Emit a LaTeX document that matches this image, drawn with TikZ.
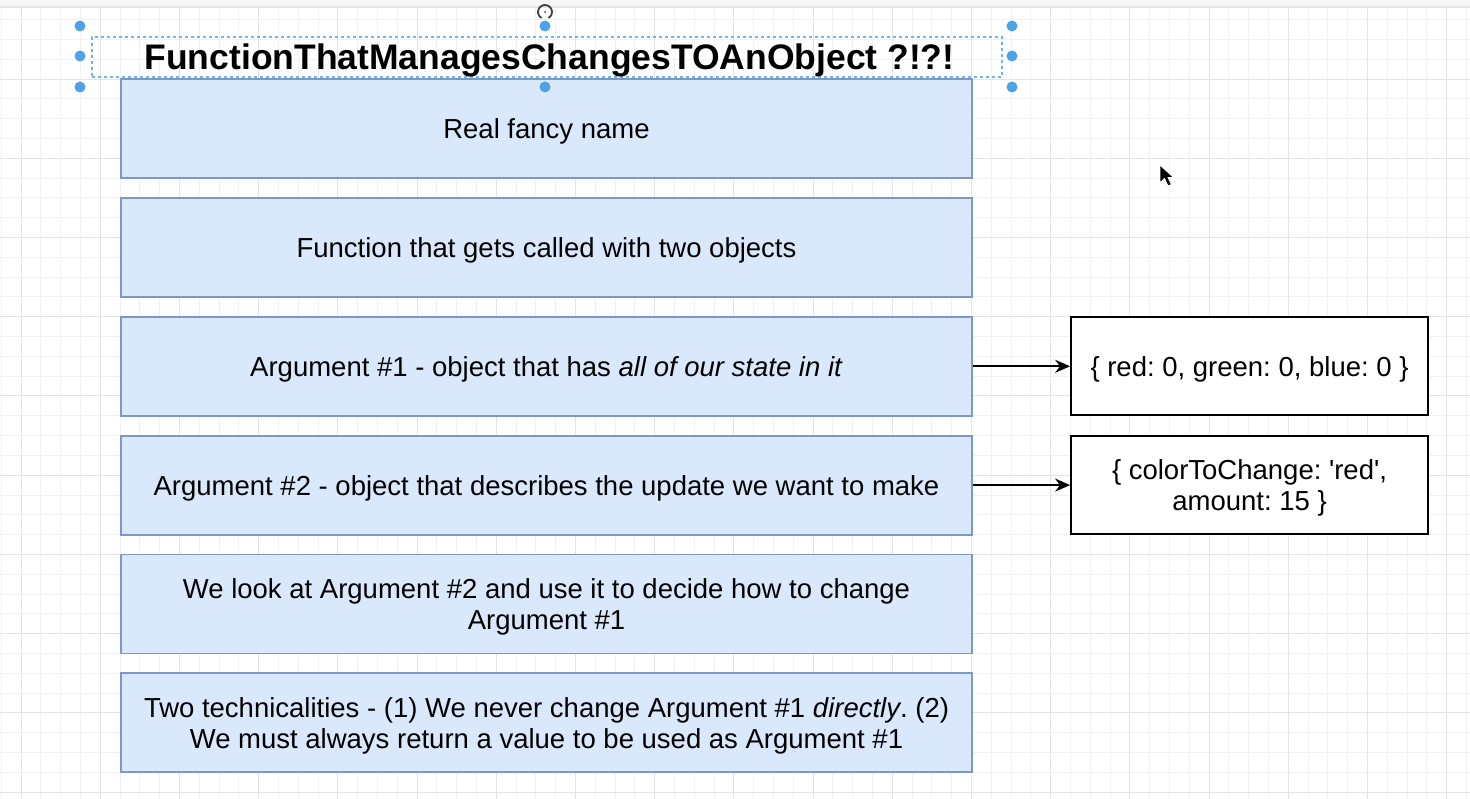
\documentclass[tikz,border=0pt]{standalone}
\usepackage{fontspec}
\setmainfont{Liberation Sans}
\usetikzlibrary{arrows.meta}
\definecolor{boxfill}{HTML}{DAE8FC}
\definecolor{boxdraw}{HTML}{7D98C4}
\definecolor{selblue}{HTML}{4DA3E6}
\definecolor{gridminor}{HTML}{F1F1F1}
\definecolor{gridmajor}{HTML}{E4E4E4}
\definecolor{pagetop}{HTML}{F6F6F6}
\tikzset{
  mainbox/.style={draw=boxdraw, fill=boxfill, line width=1.8pt, minimum width=851pt, minimum height=99pt, inner sep=0pt, align=center, font=\fontsize{27.5}{31}\selectfont, text depth=-8pt},
  objbox/.style={draw=black, fill=white, line width=1.8pt, minimum width=357pt, minimum height=98pt, inner sep=0pt, align=center, font=\fontsize{27.5}{31}\selectfont, text depth=-8pt},
  selbox/.style={draw=selblue!80, dash pattern=on 3pt off 3pt, line width=1.2pt, minimum width=910pt, minimum height=40pt, inner sep=0pt},
  titletext/.style={inner sep=0pt, font=\bfseries\fontsize{35.5}{40}\selectfont},
  arr/.style={line width=1.9pt, -{Stealth[length=15pt,width=13pt]}},
  handle/.style={fill=selblue}
}
\begin{document}
\frenchspacing
\begin{tikzpicture}[x=1pt,y=-1pt]
\useasboundingbox (0,0) rectangle (1470,799);
\fill[white] (0,0) rectangle (1470,799);
% grid
\foreach \i in {-1,...,73} \draw[gridminor, line width=1pt] ({21.1+19.8*\i},0) -- ({21.1+19.8*\i},799);
\foreach \j in {0,...,41} \draw[gridminor, line width=1pt] (0,{19.8*\j}) -- (1470,{19.8*\j});
\foreach \i in {0,4,...,72} \draw[gridmajor, line width=1pt] ({21.1+19.8*\i},0) -- ({21.1+19.8*\i},799);
\foreach \j in {0,4,...,40} \draw[gridmajor, line width=1pt] (0,{19.8*\j}) -- (1470,{19.8*\j});
\fill[pagetop] (0,0) rectangle (1470,7);
\draw[gridmajor, line width=1.2pt] (0,7) -- (1470,7);

% title
\node[selbox] (sel) at (547,57) {};
\node[titletext] (title) at (549.5,60) {FunctionThatManagesChangesTOAnObject ?!?!};

% main boxes
\node[mainbox] (b1) at (546.5,128.7) {Real fancy name};
\node[mainbox] (b2) at (546.5,247.5) {Function that gets called with two objects};
\node[mainbox] (b3) at (546.5,366.3) {Argument \#1 - object that has \textit{all of our state in it}};
\node[mainbox] (b4) at (546.5,485.1) {Argument \#2 - object that describes the update we want to make};
\node[mainbox] (b5) at (546.5,603.9) {We look at Argument \#2 and use it to decide how to change\\Argument \#1};
\node[mainbox] (b6) at (546.5,722.7) {Two technicalities - (1) We never change Argument \#1 \textit{directly}. (2)\\We must always return a value to be used as Argument \#1};

% object boxes
\node[objbox] (r1) at (1249.5,366.3) {\{ red: 0, green: 0, blue: 0 \}};
\node[objbox] (r2) at (1249.5,485.1) {\{ colorToChange: \textquotesingle red\textquotesingle,\\amount: 15 \}};

\draw[arr] (b3.east) -- (r1.west);
\draw[arr] (b4.east) -- (r2.west);

% selection handles
\foreach \p in {(80,26),(545,26),(1012,26),(80,56),(1012,56),(80,87),(545,87),(1012,87)}
  \fill[handle] \p circle (5.5);
% rotation handle
\draw[black!75, line width=1.8pt] (545,12) ++(60:7) arc (60:-240:7);
\fill[black!75] (545,12) circle (1);

% mouse cursor
\filldraw[fill=black, draw=white, line width=0.8pt] (1160,165) -- (1160,183) -- (1164.5,178.5) -- (1168,186) -- (1171.5,184.5) -- (1168,177.5) -- (1173.5,177.5) -- cycle;
\end{tikzpicture}
\end{document}
